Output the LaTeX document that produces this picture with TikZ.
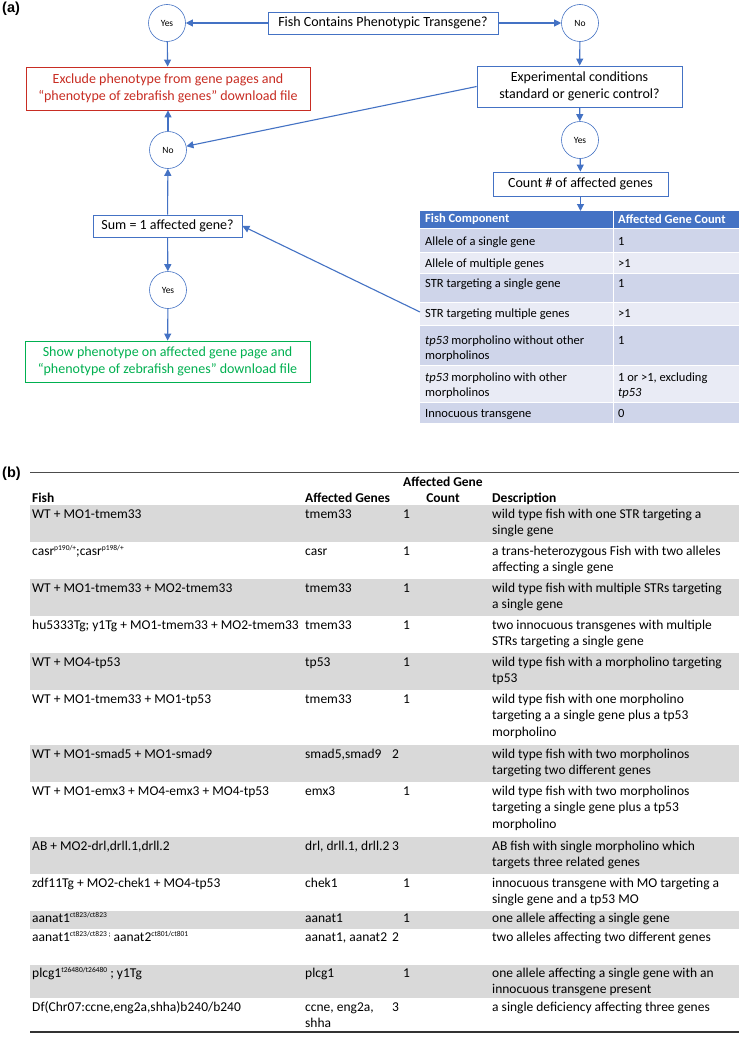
\documentclass[tikz,border=0pt]{standalone}
\usepackage{fontspec}
\setmainfont{Carlito}
\newfontfamily\labf{Liberation Sans}
\usetikzlibrary{arrows.meta}
\definecolor{ablue}{RGB}{68,114,196}
\definecolor{ared}{RGB}{200,45,35}
\definecolor{agreen}{RGB}{0,176,80}
\definecolor{thead}{RGB}{68,114,196}
\definecolor{tdark}{RGB}{207,213,234}
\definecolor{tlight}{RGB}{233,235,245}
\definecolor{tgrey}{RGB}{217,217,217}
\newcommand\flowf{\fontsize{14}{17.5}\selectfont}
\newcommand\ynf{\fontsize{9.5}{10}\selectfont}
\newcommand\tabaf{\fontsize{12.5}{15.5}\selectfont}
\newcommand\tabbf{\fontsize{13.5}{16.5}\selectfont}
\newcommand\supx[1]{\raisebox{5pt}{\fontsize{7.5}{7.5}\selectfont #1}}
\newcommand\rowb[7]{%
 \node[tb] (#1f) at (32,#2) {\strut #3};
 \node[tb] (#1g) at (305,#2) {\strut #4};
 \node[tb] (#1c) at (#7,#2) {\strut #5};
 \node[tb] (#1d) at (492,#2) {\strut #6};}
\begin{document}
\begin{tikzpicture}[x=1pt,y=-1pt,
 fbox/.style={draw=ablue,line width=0.8pt,inner sep=0pt,align=center,font=\flowf},
 yn/.style={circle,draw=ablue,line width=0.6pt,minimum size=37pt,inner sep=0pt,font=\ynf},
 arr/.style={draw=ablue,line width=1.1pt,-{Triangle[length=7pt,width=7pt]}},
 ta/.style={anchor=north west,inner sep=0pt,align=left,font=\tabaf},
 tah/.style={anchor=west,inner sep=0pt,font=\tabaf\bfseries,text=white},
 tb/.style={anchor=north west,inner sep=0pt,align=left,font=\tabbf},
 tbh/.style={inner sep=0pt,font=\tabbf\bfseries},
 lab/.style={inner sep=0pt,font=\labf\fontsize{14.5}{16}\selectfont\bfseries}]
\useasboundingbox (0,0) rectangle (741,1044);
\fill[white] (0,0) rectangle (741,1044);
% ---------- (a) flowchart
\node[lab,anchor=west] (la) at (2,9) {(a)};
\node[fbox,minimum width=230pt,minimum height=22pt] (q1) at (383,23) {Fish Contains Phenotypic Transgene?};
\node[yn] (y1) at (167,23) {Yes};
\node[yn] (n1) at (580,23) {No};
\node[fbox,draw=ared,text=ared,minimum width=284pt,minimum height=43pt] (ex) at (168,88.5) {Exclude phenotype from gene pages and\\“phenotype of zebrafish genes” download file};
\node[fbox,minimum width=205pt,minimum height=41pt] (ec) at (579.5,86.5) {Experimental conditions\\standard or generic control?};
\node[yn] (n2) at (168,150) {No};
\node[yn] (y2) at (580,140) {Yes};
\node[fbox,minimum width=175pt,minimum height=24pt] (cnt) at (580.5,184) {Count \# of affected genes};
\node[fbox,minimum width=149pt,minimum height=22pt] (sum) at (167.5,226) {Sum = 1 affected gene?};
\node[yn] (y3) at (168,290) {Yes};
\node[fbox,draw=agreen,text=agreen,minimum width=285pt,minimum height=41pt] (sh) at (167.5,361.5) {Show phenotype on affected gene page and\\“phenotype of zebrafish genes” download file};
% ---------- table (a)
\fill[thead] (420,211) rectangle (739,228);
\fill[tdark] (420,228) rectangle (739,252);
\fill[tlight] (420,252) rectangle (739,273);
\fill[tdark] (420,273) rectangle (739,302);
\fill[tlight] (420,302) rectangle (739,325);
\fill[tdark] (420,325) rectangle (739,365);
\fill[tlight] (420,365) rectangle (739,402);
\fill[tdark] (420,402) rectangle (739,423);
\foreach \yy in {228,252,273,302,325,365,402} \draw[white,line width=1pt] (420,\yy) -- (739,\yy);
\draw[white,line width=1pt] (613,211) -- (613,423);
\coordinate (tt) at (580.5,211);
\coordinate (tl) at (420,312);
\node[tah] (h1) at (425,219.5) {Fish Component};
\node[tah] (h2) at (618,219.5) {Affected Gene Count};
\node[ta] (a1a) at (425,234.3) {\strut Allele of a single gene};
\node[ta] (a1b) at (618,234.3) {\strut 1};
\node[ta] (a2a) at (425,256.3) {\strut Allele of multiple genes};
\node[ta] (a2b) at (618,256.3) {\strut >1};
\node[ta] (a3a) at (425,276.3) {\strut STR targeting a single gene};
\node[ta] (a3b) at (618,276.3) {\strut 1};
\node[ta] (a4a) at (425,306.3) {\strut STR targeting multiple genes};
\node[ta] (a4b) at (618,306.3) {\strut >1};
\node[ta] (a5a) at (425,333.3) {\strut \textit{tp53} morpholino without other\\morpholinos};
\node[ta] (a5b) at (618,333.3) {\strut 1};
\node[ta] (a6a) at (425,370.3) {\strut \textit{tp53} morpholino with other\\morpholinos};
\node[ta] (a6b) at (618,370.3) {\strut 1 or >1, excluding\\\textit{tp53}};
\node[ta] (a7a) at (425,406.3) {\strut Innocuous transgene};
\node[ta] (a7b) at (618,406.3) {\strut 0};
% ---------- arrows
\draw[arr] (q1) -- (y1);
\draw[arr] (q1) -- (n1);
\draw[arr] (n1) -- (ec);
\draw[arr] (y1) -- (ex);
\draw[arr] (ec.west) -- (n2);
\draw[arr] (n2) -- (ex);
\draw[arr] (ec) -- (y2);
\draw[arr] (y2) -- (cnt);
\draw[arr] (cnt.south) -- (tt);
\draw[arr] (sum) -- (n2);
\draw[arr] (sum) -- (y3);
\draw[arr] (y3) -- (sh);
\draw[arr] (tl) -- (sum.east);
% ---------- (b) table
\node[lab,anchor=west] (lb) at (2,474) {(b)};
\fill[tgrey] (30,505) rectangle (739,542);
\fill[tgrey] (30,579) rectangle (739,616);
\fill[tgrey] (30,653) rectangle (739,690);
\fill[tgrey] (30,745) rectangle (739,782);
\fill[tgrey] (30,837) rectangle (739,874);
\fill[tgrey] (30,911) rectangle (739,929);
\fill[tgrey] (30,965) rectangle (739,998);
\draw[black!70,line width=0.8pt] (30,472) -- (739,472);
\draw[black!80,line width=1.3pt] (30,1032) -- (739,1032);
\node[tbh,align=center,anchor=north] (hc) at (443,476.5) {Affected Gene\\Count};
\node[tbh,anchor=base west] (hf) at (32,502.5) {Fish};
\node[tbh,anchor=base west] (hg) at (305,502.5) {Affected Genes};
\node[tbh,anchor=base west] (hd) at (492,502.5) {Description};
\rowb{r1}{506.5}{WT + MO1-tmem33}{tmem33}{1}{wild type fish with one STR targeting a\\single gene}{403}
\rowb{r2}{543.5}{casr\supx{p190/+};casr\supx{p198/+}}{casr}{1}{a trans-heterozygous Fish with two alleles\\affecting a single gene}{403}
\rowb{r3}{580.5}{WT + MO1-tmem33 + MO2-tmem33}{tmem33}{1}{wild type fish with multiple STRs targeting\\a single gene}{403}
\rowb{r4}{617.5}{hu5333Tg; y1Tg + MO1-tmem33 + MO2-tmem33}{tmem33}{1}{two innocuous transgenes with multiple\\STRs targeting a single gene}{403}
\rowb{r5}{654.5}{WT + MO4-tp53}{tp53}{1}{wild type fish with a morpholino targeting\\tp53}{403}
\rowb{r6}{691.5}{WT + MO1-tmem33 + MO1-tp53}{tmem33}{1}{wild type fish with one morpholino\\targeting a a single gene plus a tp53\\morpholino}{403}
\rowb{r7}{746.5}{WT + MO1-smad5 + MO1-smad9}{smad5,smad9}{2}{wild type fish with two morpholinos\\targeting two different genes}{392}
\rowb{r8}{783.5}{WT + MO1-emx3 + MO4-emx3 + MO4-tp53}{emx3}{1}{wild type fish with two morpholinos\\targeting a single gene plus a tp53\\morpholino}{403}
\rowb{r9}{838.5}{AB + MO2-drl,drll.1,drll.2}{drl, drll.1, drll.2}{3}{AB fish with single morpholino which\\targets three related genes}{392}
\rowb{r10}{875.5}{zdf11Tg + MO2-chek1 + MO4-tp53}{chek1}{1}{innocuous transgene with MO targeting a\\single gene and a tp53 MO}{403}
\rowb{r11}{910.5}{aanat1\supx{ct823/ct823}}{aanat1}{1}{one allele affecting a single gene}{403}
\rowb{r12}{929.5}{aanat1\supx{ct823/ct823 ;} aanat2\supx{ct801/ct801}}{aanat1, aanat2}{2}{two alleles affecting two different genes}{392}
\rowb{r13}{965.5}{plcg1\supx{t26480/t26480} ; y1Tg}{plcg1}{1}{one allele affecting a single gene with an\\innocuous transgene present}{403}
\rowb{r14}{999.5}{Df(Chr07:ccne,eng2a,shha)b240/b240}{ccne, eng2a,\\shha}{3}{a single deficiency affecting three genes}{392}
\end{tikzpicture}
\end{document}
